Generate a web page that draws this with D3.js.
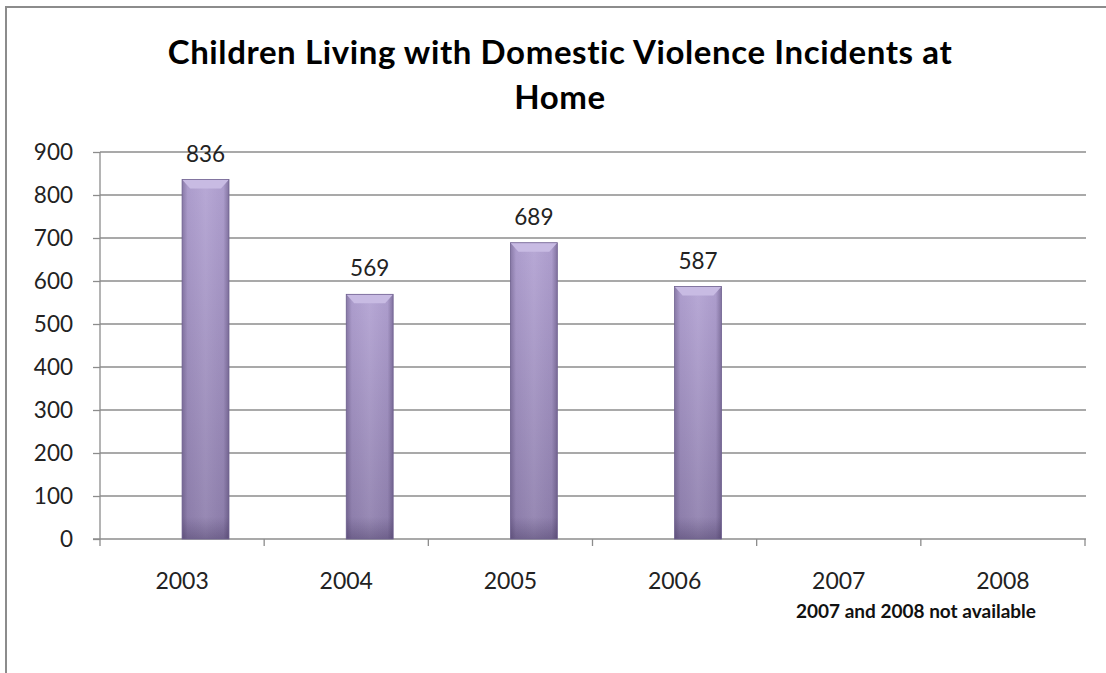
<!DOCTYPE html>
<html>
<head>
<meta charset="utf-8">
<script src="https://cdn.jsdelivr.net/npm/d3@7"></script>
<style>
  body { margin: 0; background: #fff; }
  svg { display: block; }
</style>
</head>
<body>
<svg id="chart" width="1106" height="673"></svg>
<script>
const years = ["2003", "2004", "2005", "2006", "2007", "2008"];
const values = [836, 569, 689, 587, null, null];
const yTicks = [0, 100, 200, 300, 400, 500, 600, 700, 800, 900];
const titleLines = ["Children Living with Domestic Violence Incidents at", "Home"];
const note = "2007 and 2008 not available";

const font = "Lato, Calibri, 'Open Sans', sans-serif";
const svg = d3.select("#chart");

// frame (cut off on the right and bottom like the original screenshot)
svg.append("rect")
    .attr("x", 6).attr("y", 7)
    .attr("width", 1120).attr("height", 700)
    .attr("fill", "#fff")
    .attr("stroke", "#8c8c8c")
    .attr("stroke-width", 2);

const x = d3.scaleBand().domain(years).range([100, 1085]);
// two series slots per category, the first is empty (like the excel chart)
const xs = d3.scaleBand().domain([0, 1]).range([0, x.bandwidth()]).paddingOuter(0.75);
const y = d3.scaleLinear().domain([0, 900]).range([539, 152]);

const defs = svg.append("defs");
const vg = defs.append("linearGradient").attr("id", "barV")
    .attr("x1", 0).attr("y1", 0).attr("x2", 0).attr("y2", 1);
vg.append("stop").attr("offset", "0%").attr("stop-color", "#b3a3d3");
vg.append("stop").attr("offset", "100%").attr("stop-color", "#8f80ad");
const hg = defs.append("linearGradient").attr("id", "barH")
    .attr("x1", 0).attr("y1", 0).attr("x2", 1).attr("y2", 0);
hg.append("stop").attr("offset", "0%").attr("stop-color", "#3a2d55").attr("stop-opacity", 0.35);
hg.append("stop").attr("offset", "12%").attr("stop-color", "#3a2d55").attr("stop-opacity", 0.05);
hg.append("stop").attr("offset", "50%").attr("stop-color", "#ffffff").attr("stop-opacity", 0.06);
hg.append("stop").attr("offset", "88%").attr("stop-color", "#3a2d55").attr("stop-opacity", 0.05);
hg.append("stop").attr("offset", "100%").attr("stop-color", "#3a2d55").attr("stop-opacity", 0.4);
const bg = defs.append("linearGradient").attr("id", "barB")
    .attr("x1", 0).attr("y1", 0).attr("x2", 0).attr("y2", 1);
bg.append("stop").attr("offset", "0%").attr("stop-color", "#3a2d55").attr("stop-opacity", 0);
bg.append("stop").attr("offset", "100%").attr("stop-color", "#3a2d55").attr("stop-opacity", 0.35);

// gridlines
svg.append("g")
    .selectAll("line")
    .data(yTicks.filter(d => d > 0))
    .join("line")
    .attr("x1", 100).attr("x2", 1086)
    .attr("y1", d => y(d)).attr("y2", d => y(d))
    .attr("stroke", "#8c8c8c").attr("stroke-width", 1.3);

// y axis
const yAxis = svg.append("g")
    .attr("transform", "translate(100,0)")
    .call(d3.axisLeft(y).tickValues(yTicks).tickSize(7).tickPadding(20));
yAxis.select(".domain").attr("d", `M0,${y(900)}V${y(0) + 7}`);
yAxis.selectAll("line, path").attr("stroke", "#8c8c8c").attr("stroke-width", 1.3);
yAxis.selectAll("text")
    .attr("font-family", font).attr("font-size", 22.5).attr("fill", "#222");

// x axis
const xAxis = svg.append("g").attr("transform", `translate(0,${y(0)})`);
xAxis.append("line")
    .attr("x1", 93).attr("x2", 1086)
    .attr("stroke", "#8c8c8c").attr("stroke-width", 1.3);
xAxis.selectAll("line.tick")
    .data(years)
    .join("line").attr("class", "tick")
    .attr("x1", d => x(d) + x.bandwidth()).attr("x2", d => x(d) + x.bandwidth())
    .attr("y1", 0).attr("y2", 7)
    .attr("stroke", "#8c8c8c").attr("stroke-width", 1.3);
xAxis.selectAll("text")
    .data(years)
    .join("text")
    .attr("x", d => x(d) + x.bandwidth() / 2)
    .attr("y", 50)
    .attr("text-anchor", "middle")
    .attr("font-family", font).attr("font-size", 23).attr("fill", "#222")
    .text(d => d);

// bars
const data = years.map((d, i) => ({ year: d, value: values[i] })).filter(d => d.value != null);
const bars = svg.append("g").selectAll("g")
    .data(data)
    .join("g")
    .attr("transform", d => `translate(${x(d.year) + xs(1)},${y(d.value)})`);
const bw = xs.bandwidth();
bars.append("rect")
    .attr("width", bw).attr("height", d => y(0) - y(d.value))
    .attr("fill", "url(#barV)");
bars.append("rect")
    .attr("width", bw).attr("height", d => y(0) - y(d.value))
    .attr("fill", "url(#barH)");
bars.append("rect")
    .attr("y", d => y(0) - y(d.value) - 22)
    .attr("width", bw).attr("height", 22)
    .attr("fill", "url(#barB)");
// bevel on top
bars.append("path")
    .attr("d", `M0,0H${bw}L${bw - 8},9H8Z`)
    .attr("fill", "#c8bbe3");
bars.append("rect")
    .attr("width", bw).attr("height", d => y(0) - y(d.value))
    .attr("fill", "none").attr("stroke", "#6f6190").attr("stroke-width", 0.8);

// value labels
bars.append("text")
    .attr("x", bw / 2).attr("y", -18)
    .attr("text-anchor", "middle")
    .attr("font-family", font).attr("font-size", 22.5).attr("fill", "#222")
    .text(d => d.value);

// title
svg.append("text")
    .attr("text-anchor", "middle")
    .attr("font-family", font).attr("font-size", 33).attr("font-weight", "bold")
    .attr("letter-spacing", 0.6)
    .attr("fill", "#000")
    .selectAll("tspan")
    .data(titleLines)
    .join("tspan")
    .attr("x", 560)
    .attr("y", (d, i) => 64 + i * 45)
    .text(d => d);

// note under the last categories
svg.append("text")
    .attr("x", 916).attr("y", 618)
    .attr("text-anchor", "middle")
    .attr("font-family", font).attr("font-size", 19).attr("font-weight", "bold")
    .attr("fill", "#111")
    .text(note);
</script>
</body>
</html>
